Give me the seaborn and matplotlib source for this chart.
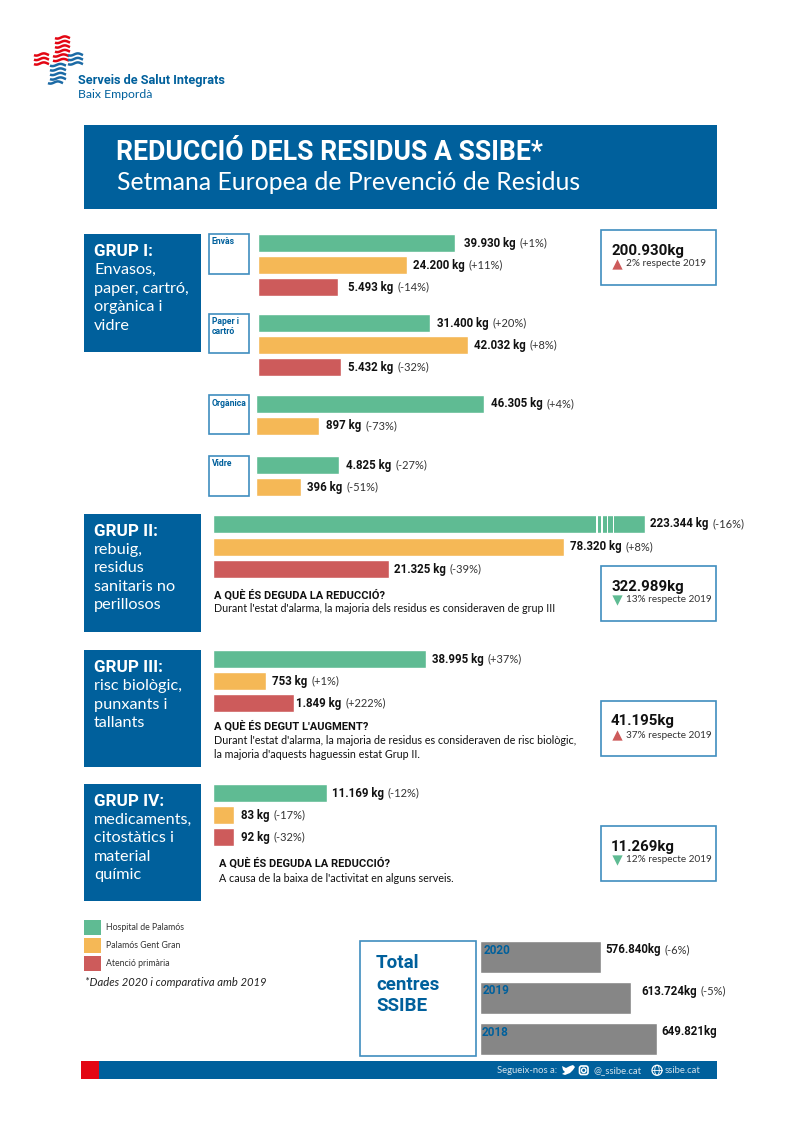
import numpy as np
import pandas as pd
import seaborn as sns
import matplotlib
matplotlib.use("Agg")
import matplotlib.pyplot as plt
from matplotlib.patches import Rectangle, Circle, Polygon, Ellipse, FancyBboxPatch

# bar lengths are read in pixels off the picture: the original bars are not to scale with their labels
centres = ["Hospital de Palamós", "Palamós Gent Gran", "Atenció primària"]

envas_len = [197, 149, 80]
envas_kg = ["39.930 kg", "24.200 kg", "5.493 kg"]
envas_pct = ["(+1%)", "(+11%)", "(-14%)"]

paper_len = [172, 210, 83]
paper_kg = ["31.400 kg", "42.032 kg", "5.432 kg"]
paper_pct = ["(+20%)", "(+8%)", "(-32%)"]

organica_len = [228, 63]
organica_kg = ["46.305 kg", "897 kg"]
organica_pct = ["(+4%)", "(-73%)"]

vidre_len = [83, 45]
vidre_kg = ["4.825 kg", "396 kg"]
vidre_pct = ["(-27%)", "(-51%)"]

grup2_len = [432, 351, 176]
grup2_kg = ["223.344 kg", "78.320 kg", "21.325 kg"]
grup2_pct = ["(-16%)", "(+8%)", "(-39%)"]

grup3_len = [213, 53, 81]
grup3_kg = ["38.995 kg", "753 kg", "1.849 kg"]
grup3_pct = ["(+37%)", "(+1%)", "(+222%)"]

grup4_len = [114, 21, 21]
grup4_kg = ["11.169 kg", "83 kg", "92 kg"]
grup4_pct = ["(-12%)", "(-17%)", "(-32%)"]

anys = ["2020", "2019", "2018"]
total_len = [121, 151, 177]
total_kg = ["576.840kg", "613.724kg", "649.821kg"]
total_pct = ["(-6%)", "(-5%)", ""]

W, H = 800, 1121
BLUE = "#00609C"
EDGE = "#3F8DBF"
GREEN = "#5FBB93"
ORANGE = "#F5B856"
RED = "#CD5B5B"
GREY = "#868686"
TXT = "#111111"
colors = [GREEN, ORANGE, RED]
LIGHT = ["Lato", "DejaVu Sans"]

sns.set_style("white")
plt.rcParams["font.family"] = ["Roboto", "DejaVu Sans"]

fig = plt.figure(figsize=(W / 100, H / 100), dpi=100)

# page axes in pixel coordinates, on top of the bar axes so the year labels show
page = fig.add_axes([0, 0, 1, 1], zorder=5)
page.set_xlim(0, W)
page.set_ylim(H, 0)
page.axis("off")
page.patch.set_alpha(0)


def box(x0, y0, x1, y1, fc="none", ec="none", lw=1.2):
    page.add_patch(Rectangle((x0, y0), x1 - x0, y1 - y0, facecolor=fc, edgecolor=ec, lw=lw))


def txt(x, y, s, size=8.5, weight="normal", color=TXT, **kw):
    return page.text(x, y, s, fontsize=size, fontweight=weight, color=color, va="center", ha="left", **kw)


def value_label(x, y, bold, reg, size=8.3):
    t = txt(x, y, bold, size=size, weight="bold")
    bb = t.get_window_extent(fig.canvas.get_renderer())
    if reg:
        txt(bb.x1 + 4, y, reg, size=8, color="#333333", family=LIGHT)


def bars(x0, top, lengths, kg, pct, gaps, pitch=22.0, bar=18.0, pal=colors, cats=centres, size=8.3, dy=0):
    n = len(lengths)
    w = max(lengths) + 2
    h = pitch * n
    # axes placed so that the first bar starts at pixel row "top"
    y0 = top - (pitch - bar) / 2
    ax = fig.add_axes([(x0 - 0.7) / W, 1 - (y0 + h) / H, w / W, h / H])
    df = pd.DataFrame({"centre": cats[:n], "len": lengths})
    sns.barplot(data=df, y="centre", x="len", hue="centre", palette=pal[:n], legend=False,
                width=bar / pitch, saturation=1, ax=ax)
    ax.set_xlim(0, w)
    ax.set_ylim(n - 0.5, -0.5)
    ax.axis("off")
    for i in range(n):
        value_label(x0 + lengths[i] + gaps[i], y0 + pitch * (i + 0.5) + dy, kg[i], pct[i], size=size)
    return ax


# logo: four arms made of short wave strokes
def waves(x0, x1, ys, color, lw=1.8):
    xs = np.linspace(x0, x1, 30)
    for y in ys:
        page.plot(xs, y + 1.1 * np.sin((xs - x0) / (x1 - x0) * 2 * np.pi + 0.6), color=color, lw=lw,
                  solid_capstyle="butt")


waves(55, 70, [37.5, 42, 46.5, 51], "#E30613")
waves(53, 69, [55.5, 60], "#E30613")
waves(34, 49, [54.5, 59, 63.5], "#E30613")
waves(50, 66, [65, 69.5, 74, 78.5], "#1B6AA5")
waves(48, 63, [82.5], "#1B6AA5")
waves(68, 83, [54.5, 59, 63.5], "#1B6AA5")
txt(78, 80.5, "Serveis de Salut Integrats", size=9.2, weight="bold", color=BLUE)
txt(78, 94, "Baix Empordà", size=8.8, color=BLUE, family=LIGHT)

# header
box(84, 125, 717, 209, fc=BLUE)
txt(116, 152, "REDUCCIÓ DELS RESIDUS A SSIBE*", size=19.2, weight="bold", color="white")
txt(117, 183, "Setmana Europea de Prevenció de Residus", size=17.8, color="white", family=LIGHT)

# group boxes
groups = [
    (234, 352, "GRUP I:", ["Envasos,", "paper, cartró,", "orgànica i", "vidre"]),
    (514, 632, "GRUP II:", ["rebuig,", "residus", "sanitaris no", "perillosos"]),
    (650, 767, "GRUP III:", ["risc biològic,", "punxants i", "tallants"]),
    (784, 901, "GRUP IV:", ["medicaments,", "citostàtics i", "material", "químic"]),
]
for y0, y1, head, lines in groups:
    box(84, y0, 201, y1, fc=BLUE)
    txt(94, y0 + 17, head, size=12.3, weight="bold", color="white")
    for i, line in enumerate(lines):
        txt(94, y0 + 36 + i * 18.5, line, size=11.7, color="white", family=LIGHT)

# small labels of group I
for y0, y1, lines in [(234, 274, ["Envàs"]), (314, 353, ["Paper i", "cartró"]),
                      (395, 434, ["Orgànica"]), (456, 496, ["Vidre"])]:
    box(209, y0, 249, y1, ec=EDGE)
    for i, line in enumerate(lines):
        txt(212, y0 + 8 + i * 10, line, size=6.2, weight="bold", color=BLUE)

bars(259, 234, envas_len, envas_kg, envas_pct, [8, 5, 9])
bars(259, 314, paper_len, paper_kg, paper_pct, [6, 5, 6])
bars(257, 395, organica_len, organica_kg, organica_pct, [6, 6])
bars(257, 456, vidre_len, vidre_kg, vidre_pct, [6, 5])
bars(214, 515, grup2_len, grup2_kg, grup2_pct, [4, 5, 4], pitch=22.5)
bars(214, 650, grup3_len, grup3_kg, grup3_pct, [5, 5, 1])
bars(214, 784, grup4_len, grup4_kg, grup4_pct, [4, 6, 6])

# the white breaks in the long bar
for a, b in [(595.5, 597.5), (601, 602.5), (606.5, 608), (612.5, 614)]:
    box(a, 514, b, 534, fc="white")

# results boxes
for y0, val, pct, up in [(230, "200.930kg", "2% respecte 2019", True), (566, "322.989kg", "13% respecte 2019", False),
                         (701, "41.195kg", "37% respecte 2019", True), (826, "11.269kg", "12% respecte 2019", False)]:
    box(601, y0, 716, y0 + 55, ec=EDGE)
    txt(611, y0 + 20.5, val, size=10.8, weight="bold")
    txt(626, y0 + 34, pct, size=7.2, color="#333333", family=LIGHT)
    page.scatter([617], [y0 + 34], marker="^" if up else "v", s=55, color=RED if up else GREEN, linewidths=0)

# explanations
txt(214, 595, "A QUÈ ÉS DEGUDA LA REDUCCIÓ?", size=8, weight="bold")
txt(214, 609, "Durant l'estat d'alarma, la majoria dels residus es consideraven de grup III", size=7.65, family=LIGHT)
txt(214, 726, "A QUÈ ÉS DEGUT L'AUGMENT?", size=8, weight="bold")
txt(214, 740, "Durant l'estat d'alarma, la majoria de residus es consideraven de risc biològic,", size=7.75, family=LIGHT)
txt(214, 754, "la majoria d'aquests haguessin estat Grup II.", size=7.75, family=LIGHT)
txt(219, 863, "A QUÈ ÉS DEGUDA LA REDUCCIÓ?", size=8, weight="bold")
txt(219, 878, "A causa de la baixa de l'activitat en alguns serveis.", size=7.75, family=LIGHT)

# legend
for i, y0 in enumerate([920, 938, 956]):
    box(84, y0, 101, y0 + 15, fc=colors[i])
    txt(106, y0 + 7.5, centres[i], size=6.3, color="#333333", family=LIGHT)
txt(85, 982, "*Dades 2020 i comparativa amb 2019", size=8.1, style="italic", color="#222222", family=LIGHT)

# totals
box(360, 941, 476, 1056, ec=EDGE)
for y, line in zip([963, 985, 1006], ["Total", "centres", "SSIBE"]):
    txt(376, y, line, size=13.5, weight="bold", color=BLUE)
bars(481, 941, total_len, total_kg, total_pct, [3, 9, 3], pitch=41.0, bar=32.0, pal=[GREY] * 3, cats=anys, dy=-7)
for x, y, s in zip([484, 483, 482], [950, 991, 1032], anys):
    txt(x, y, s, size=8.5, weight="bold", color=BLUE)

# footer
box(81, 1061, 99, 1079, fc="#E30613")
box(99, 1061, 717, 1079, fc=BLUE)
FOOT = "#D5E3EC"
txt(497, 1070.5, "Segueix-nos a:", size=6.8, color=FOOT, family=LIGHT)
page.add_patch(Polygon([(562, 1066), (566, 1068), (570, 1066), (573, 1065), (575, 1067), (573, 1070), (570, 1073),
                        (565, 1075), (562, 1074), (565, 1072), (563, 1070)], closed=True, fc="white", ec="none"))
page.add_patch(FancyBboxPatch((579.5, 1066), 8.5, 8.5, boxstyle="round,pad=0,rounding_size=2.2",
                              fc="none", ec="white", lw=1.2))
page.add_patch(Circle((583.7, 1070.3), 2.2, fc="none", ec="white", lw=1))
txt(594, 1070.5, "@_ssibe.cat", size=6.8, color=FOOT, family=LIGHT)
page.add_patch(Circle((657, 1070.3), 5, fc="none", ec="white", lw=0.9))
page.add_patch(Ellipse((657, 1070.3), 4.5, 10, fc="none", ec="white", lw=0.6))
page.plot([652, 662], [1070.3, 1070.3], color="white", lw=0.6)
txt(665, 1070.5, "ssibe.cat", size=6.8, color=FOOT, family=LIGHT)

fig.savefig("out.png", dpi=100)
